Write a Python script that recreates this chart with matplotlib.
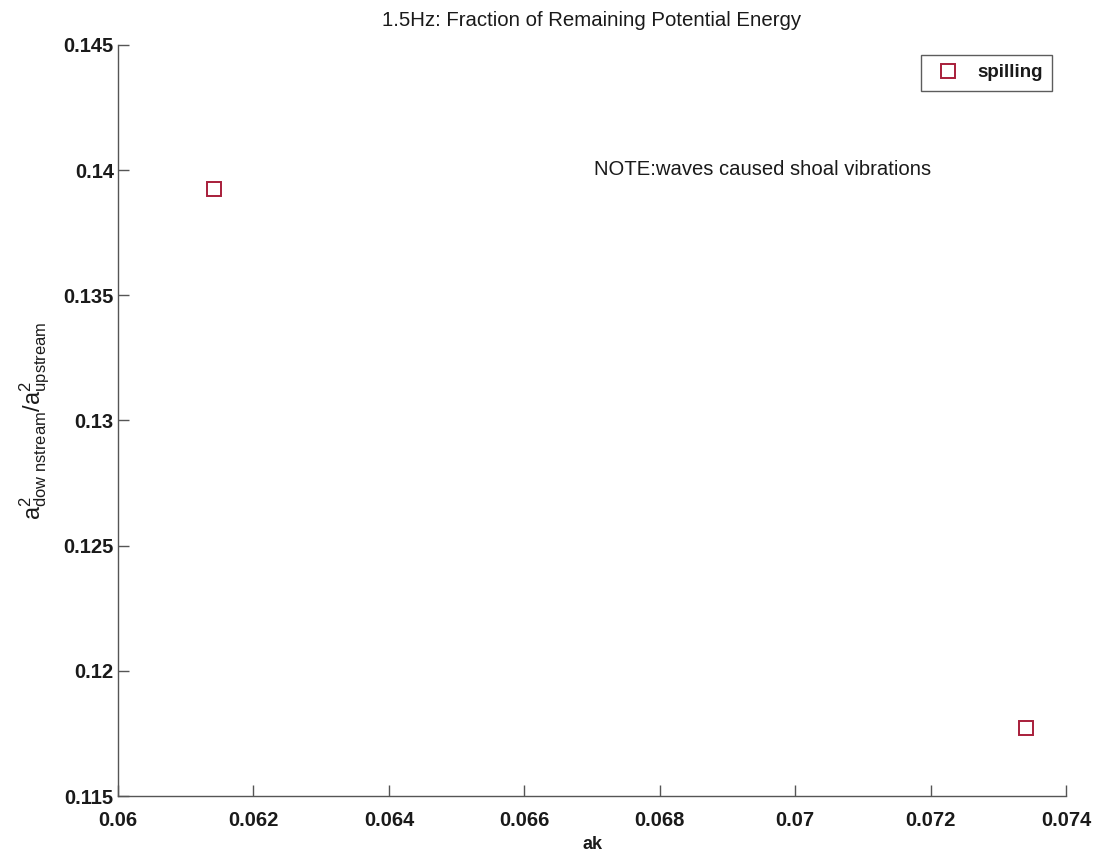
import matplotlib
matplotlib.use("Agg")
import matplotlib.pyplot as plt

# Measured wave steepness and remaining potential-energy fraction
ak = [0.06142, 0.07341]
energy_fraction = [0.13925, 0.11772]

x_ticks = [0.06, 0.062, 0.064, 0.066, 0.068, 0.07, 0.072, 0.074]
x_tick_labels = ["0.06", "0.062", "0.064", "0.066", "0.068", "0.07", "0.072", "0.074"]
y_ticks = [0.115, 0.12, 0.125, 0.13, 0.135, 0.14, 0.145]
y_tick_labels = ["0.115", "0.12", "0.125", "0.13", "0.135", "0.14", "0.145"]

plt.rcParams["font.family"] = ["Liberation Sans", "DejaVu Sans"]
plt.rcParams["mathtext.fontset"] = "custom"
plt.rcParams["mathtext.rm"] = "Liberation Sans"
plt.rcParams["mathtext.it"] = "Liberation Sans"
plt.rcParams["mathtext.bf"] = "Liberation Sans:bold"

fig = plt.figure(figsize=(10.96, 8.55), dpi=100)
ax = fig.add_axes([0.1077, 0.0690, 0.8649, 0.8784])

ax.plot(ak, energy_fraction, linestyle="none", marker="s", markersize=10,
        markerfacecolor="none", markeredgecolor="#a81e3a", markeredgewidth=1.4,
        label="spilling")

ax.set_xlim(0.06, 0.074)
ax.set_ylim(0.115, 0.145)
ax.set_xticks(x_ticks)
ax.set_xticklabels(x_tick_labels)
ax.set_yticks(y_ticks)
ax.set_yticklabels(y_tick_labels)

for side in ("top", "right"):
    ax.spines[side].set_visible(False)
for side in ("left", "bottom"):
    ax.spines[side].set_color("#555555")
    ax.spines[side].set_linewidth(1.0)

ax.tick_params(direction="in", length=8, width=1.0, color="#555555",
               labelsize=14.5)
ax.tick_params(axis="x", pad=11)
ax.tick_params(axis="y", pad=3)
for lbl in ax.get_xticklabels() + ax.get_yticklabels():
    lbl.set_fontweight("bold")
    lbl.set_color("#1a1a1a")

ax.set_title("1.5Hz: Fraction of Remaining Potential Energy",
             fontsize=14.7, color="#1a1a1a", pad=14)
ax.set_xlabel("ak", fontsize=13, fontweight="bold", color="#1a1a1a", labelpad=4)
ax.set_ylabel(r"$\mathrm{a^2_{dow\ nstream}/a^2_{upstream}}$",
              fontsize=17, color="#1a1a1a", labelpad=8)

ax.text(0.06703, 0.14001, "NOTE:waves caused shoal vibrations",
        fontsize=14.6, color="#1a1a1a", va="center", ha="left")

leg = ax.legend(loc="upper right", bbox_to_anchor=(0.9852, 0.9867),
                fontsize=13.5, frameon=True, fancybox=False,
                handlelength=1.9, handletextpad=0.6, borderpad=0.5,
                borderaxespad=0.0)
leg.get_frame().set_edgecolor("#333333")
leg.get_frame().set_linewidth(1.0)
for t in leg.get_texts():
    t.set_fontweight("bold")
    t.set_color("#1a1a1a")

fig.savefig("out.png", dpi=100, facecolor="white")
